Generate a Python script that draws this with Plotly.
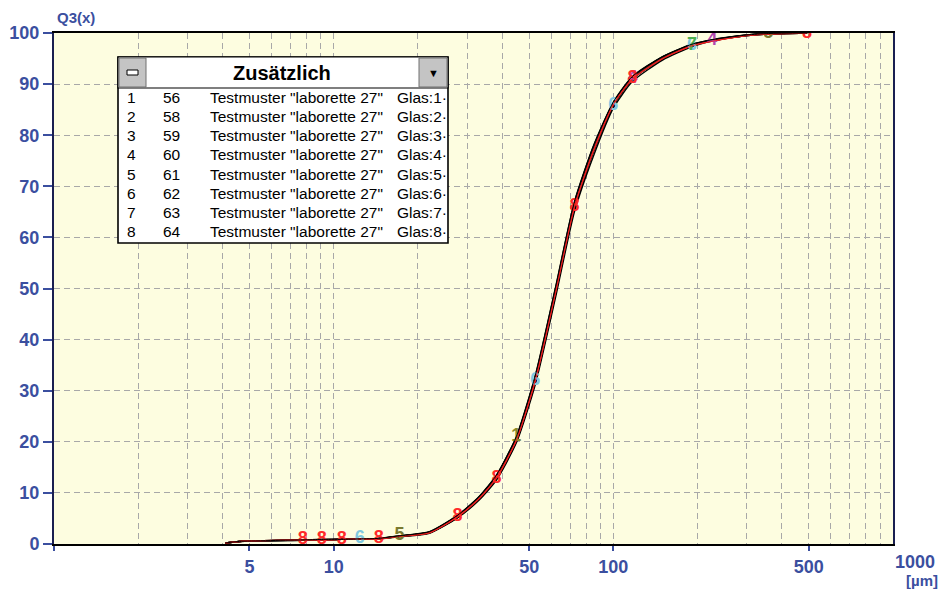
import plotly.graph_objects as go

# ---------------- data ----------------
x_um = [4.1, 4.6, 7.75, 9.06, 10.7, 12.4, 14.5, 17.2, 22, 27.7, 33, 38.2, 45, 52.6,
        62, 72.6, 85, 100, 117, 150, 191, 226, 300, 358, 493]

q3_s1 = [0.2, 0.5, 0.8, 0.9, 0.9, 1.0, 1.1, 1.6, 2.4, 5.6, 9.2, 13.5, 21.0, 33.0,
         50.0, 67.0, 78.0, 86.5, 91.5, 95.4, 97.8, 98.7, 99.6, 99.9, 100.0]
q3_s2 = [0.2, 0.5, 0.7, 0.8, 0.9, 0.9, 1.0, 1.4, 2.1, 5.1, 8.5, 12.5, 19.8, 31.2,
         48.0, 65.0, 76.0, 85.3, 90.5, 94.7, 97.3, 98.4, 99.5, 99.8, 100.0]
q3_s3 = [0.2, 0.5, 0.8, 0.8, 0.9, 1.0, 1.0, 1.5, 2.3, 5.4, 9.0, 13.2, 20.6, 32.5,
         49.5, 66.5, 77.5, 86.2, 91.2, 95.2, 97.6, 98.6, 99.6, 99.9, 100.0]
q3_s4 = [0.2, 0.5, 0.8, 0.8, 0.9, 1.0, 1.1, 1.5, 2.2, 5.2, 8.7, 12.8, 20.1, 31.7,
         48.6, 65.6, 76.8, 85.8, 91.0, 95.0, 97.5, 98.5, 99.5, 99.8, 100.0]
q3_s5 = [0.2, 0.5, 0.8, 0.9, 1.0, 1.0, 1.1, 1.6, 2.3, 5.5, 9.1, 13.3, 20.8, 32.2,
         49.2, 66.2, 77.2, 86.0, 91.3, 95.3, 97.7, 98.6, 99.6, 99.9, 100.0]
q3_s6 = [0.2, 0.5, 0.7, 0.8, 0.9, 1.0, 1.0, 1.5, 2.2, 5.3, 8.9, 13.0, 20.4, 32.0,
         49.0, 66.0, 77.0, 85.9, 91.1, 95.1, 97.6, 98.5, 99.5, 99.8, 100.0]
q3_s7 = [0.2, 0.5, 0.8, 0.8, 0.9, 1.0, 1.0, 1.5, 2.2, 5.2, 8.8, 12.9, 20.2, 31.8,
         48.8, 65.8, 76.9, 85.9, 91.0, 95.0, 97.5, 98.5, 99.5, 99.8, 100.0]
q3_s8 = [0.2, 0.5, 0.8, 0.8, 0.9, 1.0, 1.0, 1.5, 2.2, 5.3, 8.8, 12.9, 20.3, 32.0,
         49.0, 66.0, 77.0, 86.0, 91.0, 95.0, 97.5, 98.4, 99.5, 99.8, 100.0]

series_q3 = [q3_s1, q3_s2, q3_s3, q3_s4, q3_s5, q3_s6, q3_s7, q3_s8]

# marker positions (x in µm) where each series' number is visible
markers_s1 = [45]
markers_s2 = []
markers_s3 = []
markers_s4 = [117, 226]
markers_s5 = [17.2, 358]
markers_s6 = [12.4, 52.6, 100, 191]
markers_s7 = [191]
markers_s8 = [7.75, 9.06, 10.7, 14.5, 27.7, 38.2, 72.6, 117, 493]
series_markers = [markers_s1, markers_s2, markers_s3, markers_s4,
                  markers_s5, markers_s6, markers_s7, markers_s8]

legend_ids = [1, 2, 3, 4, 5, 6, 7, 8]
legend_nums = [56, 58, 59, 60, 61, 62, 63, 64]
legend_names = ['Testmuster "laborette 27"'] * 8
legend_glas = ["Glas:1·", "Glas:2·", "Glas:3·", "Glas:4·",
               "Glas:5·", "Glas:6·", "Glas:7·", "Glas:8·"]

x_tick_vals = [1, 5, 10, 50, 100, 500]
x_tick_text = ["", "5", "10", "50", "100", "500"]
x_minor_grid = [2, 3, 4, 5, 6, 7, 8, 9, 10, 20, 30, 40, 50, 60, 70, 80, 90,
                100, 200, 300, 400, 500, 600, 700, 800, 900]
y_tick_vals = [0, 10, 20, 30, 40, 50, 60, 70, 80, 90, 100]

# ---------------- styles ----------------
OFF = 8                      # page offset of the figure inside the window
W, H = 950 - OFF, 589 - OFF
L, R, T, B = 54, 893, 33, 544  # plot area in window pixels
BLUE = "#3b4f9f"
line_colors = ["#000000", "#000000", "#202020", "#000000",
               "#000000", "#303030", "#000000", "#ee2020"]
marker_colors = ["#8a8a2a", "#40a040", "#3060c0", "#b048b0",
                 "#7a7a30", "#80c8e0", "#50b050", "#ff2a2a"]
FONT = "Liberation Sans"

fig = go.Figure()

for i, q in enumerate(series_q3):
    fig.add_trace(go.Scatter(
        x=x_um, y=q, mode="lines",
        line=dict(color=line_colors[i], width=1.4, shape="spline", smoothing=0.6),
        showlegend=False, hoverinfo="skip"))

for i, q in enumerate(series_q3):
    lookup = dict(zip(x_um, q))
    mx = series_markers[i]
    if not mx:
        continue
    fig.add_trace(go.Scatter(
        x=mx, y=[lookup[v] for v in mx], mode="text",
        text=[str(legend_ids[i])] * len(mx), textposition="middle center",
        textfont=dict(family=FONT, size=18, color=marker_colors[i], weight="bold"),
        showlegend=False, hoverinfo="skip"))

# redraw red and black lines lightly above the markers
for i in (7, 0):
    fig.add_trace(go.Scatter(
        x=x_um, y=series_q3[i], mode="lines",
        line=dict(color=line_colors[i], width=1.0, shape="spline", smoothing=0.6),
        showlegend=False, hoverinfo="skip"))

def px(xp, yp):
    return (xp - L) / (R - L), (B - yp) / (B - T)

shapes = []
anns = []

def rect(x0, y0, x1, y1, fill, line="#000000", lw=1.2):
    a0, b0 = px(x0, y0)
    a1, b1 = px(x1, y1)
    shapes.append(dict(type="rect", xref="paper", yref="paper", x0=a0, y0=b1, x1=a1, y1=b0,
                       fillcolor=fill, line=dict(color=line, width=lw), layer="above"))

def text(xp, yp, s, size=13, bold=False, anchor="left", color="#000000"):
    a, b = px(xp, yp)
    anns.append(dict(xref="paper", yref="paper", x=a, y=b, text=s, showarrow=False,
                     xanchor=anchor, yanchor="middle",
                     font=dict(family=FONT, size=size, color=color,
                               weight="bold" if bold else "normal")))

# legend window
rect(118, 57, 448, 243, "#ffffff", lw=1.6)
rect(118, 57, 448, 88, "#ffffff", lw=1.2)
rect(119, 58, 146, 87, "#c4c4c4", line="#707070", lw=1)
rect(419, 58, 447, 87, "#c4c4c4", line="#707070", lw=1)
rect(127, 70, 138, 75, "#ffffff", line="#000000", lw=1)
text(282, 73, "Zusätzlich", size=20, bold=True, anchor="center")
text(433, 73, "▼", size=11, anchor="center")

row_y0, row_dy = 97.5, 19.15
for k in range(len(legend_ids)):
    yy = row_y0 + k * row_dy
    text(125, yy, str(legend_ids[k]), size=15.5)
    text(161, yy, str(legend_nums[k]), size=15.5)
    text(208, yy, legend_names[k], size=15.5)
    text(395, yy, legend_glas[k], size=15.5)

# axis captions
anns.append(dict(xref="paper", yref="paper", x=px(55, 0)[0], y=px(0, 17)[1], text="Q3(x)",
                 showarrow=False, xanchor="left", yanchor="middle",
                 font=dict(family=FONT, size=15, color=BLUE, weight="bold")))
anns.append(dict(xref="paper", yref="paper", x=px(893, 0)[0], y=px(0, 562)[1], text="1000",
                 showarrow=False, xanchor="left", yanchor="middle",
                 font=dict(family=FONT, size=18, color=BLUE, weight="bold")))
anns.append(dict(xref="paper", yref="paper", x=px(940, 0)[0], y=px(0, 580)[1], text="[µm]",
                 showarrow=False, xanchor="right", yanchor="middle",
                 font=dict(family=FONT, size=15, color=BLUE, weight="bold")))

fig.update_layout(
    template="none",
    width=W, height=H,
    margin=dict(l=L - OFF, r=W - (R - OFF), t=T - OFF, b=H - (B - OFF), pad=0, autoexpand=False),
    paper_bgcolor="#ffffff", plot_bgcolor="#fdfde0",
    shapes=shapes, annotations=anns,
    showlegend=False,
)
fig.update_xaxes(
    type="log", range=[0, 3], tickvals=x_tick_vals, ticktext=x_tick_text,
    automargin=False,
    ticks="outside", ticklen=5, tickcolor=BLUE, tickwidth=1.5,
    tickfont=dict(family=FONT, size=18, color=BLUE, weight="bold"),
    showgrid=False, zeroline=False,
    showline=True, linecolor="#000000", linewidth=2, mirror=True,
    minor=dict(tickvals=x_minor_grid, showgrid=True, gridcolor="#a8a8a8",
               griddash="6px,4px", gridwidth=1, ticks=""),
)
fig.update_yaxes(
    range=[0, 100], tickvals=y_tick_vals,
    automargin=False,
    ticks="outside", ticklen=9, tickcolor=BLUE, tickwidth=2,
    tickfont=dict(family=FONT, size=18, color=BLUE, weight="bold"),
    showgrid=True, gridcolor="#a8a8a8", griddash="6px,4px", gridwidth=1,
    zeroline=False,
    showline=True, linecolor="#1a1f50", linewidth=2, mirror=True,
)

fig.write_html("out.html")
